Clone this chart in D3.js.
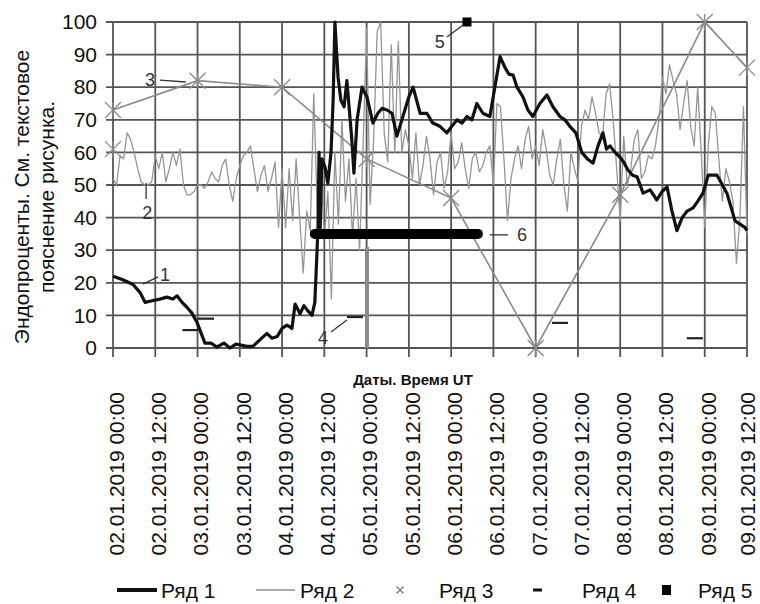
<!DOCTYPE html>
<html>
<head>
<meta charset="utf-8">
<script src="https://cdn.jsdelivr.net/npm/d3@7"></script>
<style>
  body { margin: 0; background: #fff; }
  svg text { font-family: "Liberation Sans", Arial, sans-serif; }
</style>
</head>
<body>
<div id="chart"></div>
<script>
// --- данные (часы от 02.01.2019 00:00 UT) ---
const tickHours = [0, 12, 24, 36, 48, 60, 72, 84, 96, 108, 120, 132, 144, 156, 168, 180];
const tickLabels = ["02.01.2019 00:00", "02.01.2019 12:00", "03.01.2019 00:00", "03.01.2019 12:00",
  "04.01.2019 00:00", "04.01.2019 12:00", "05.01.2019 00:00", "05.01.2019 12:00",
  "06.01.2019 00:00", "06.01.2019 12:00", "07.01.2019 00:00", "07.01.2019 12:00",
  "08.01.2019 00:00", "08.01.2019 12:00", "09.01.2019 00:00", "09.01.2019 12:00"];
const yTicks = [0, 10, 20, 30, 40, 50, 60, 70, 80, 90, 100];

const ryad1Hours = [0,2.6,5.7,7.7,9.1,11.1,13.3,15.3,17,18.2,19.6,21,22.4,23.8,24.7,26.1,27.8,29.5,31.5,33.2,
  34.9,36,38,39.7,41.7,43.7,45.1,46.6,48,49.4,50.8,51.7,53.1,54.2,55.1,56.5,57.3,57.9,58.2,58.5,
  58.8,59.3,60.2,61,61.9,62.5,63,63.9,64.7,65.6,66.4,67.8,68.4,69.3,70.7,72.1,73.8,75.2,76.4,77.8,
  79.2,80.6,82.3,84,85.2,87.2,89.1,90.8,92.8,94.8,96.2,97.7,99.1,100.5,101.9,103.3,105,107,109.9,111.3,
  112.4,113.6,114.7,116.4,117.8,119.2,121.2,123.2,124.9,126.9,128.3,129.7,131.4,133.1,134.7,136.3,137.7,139.1,140.1,141.1,
  142.5,143.9,145,146.2,147.5,148.8,150.5,152.5,154.4,155.9,157.3,158.7,160.1,161.6,163,164.7,166,167.5,169,171.5,
  174.3,176.6,179.4,180];
const ryad1Values = [22,21,19.5,17,14,14.5,15,15.6,15,16,14,12.5,10.7,8,5.5,1.5,1.5,0.3,1.5,0,
  1.2,1,0.5,0.5,2.5,4.5,3,3.5,6,7,6,13.5,10.5,13,11.7,10,14,29,37,60,
  36,58,55.5,50.6,60,76,100,83,76,74,82,64,53.6,70,80,77,69,72,73.5,73,
  72,65,71,77,80,72,72,69,68,66,68,70,69,71,70,75,72,71,89.4,86,
  84,83.7,80,77,73,71,75,77.6,74,71,70,68,66,60,58,56.7,62,66,61,62,
  60,58.6,57,54.6,53,52.5,47.5,48.5,45.4,48,49.4,42,36,40,42,43,45,47.5,53,53,
  47.5,39,37,36];

// Ряд 2: ежечасные значения, 0..180 ч
const ryad2Values = [
  52,50,59,58,66,64,60,55,51,50,
  50,51,59,55,60,51,55,60,56,61,
  50,47,47,48,50,50,49,51,54,52,
  51,56,58,50,45,52,56,59,60,62,
  55,48,53,56,48,52,57,37,55,37,
  55,39,58,40,23,42,36,78,42,55,
  34,48,15,60,38,70,45,58,34,52,
  30,62,98,44,64,97,100,66,57,93,
  60,94,60,67,62,52,66,50,56,65,
  58,47,57,60,49,54,66,55,57,63,
  55,49,58,60,54,56,60,62,50,75,
  74,58,39,52,58,62,55,64,68,58,
  62,56,67,61,53,50,58,64,50,42,
  60,55,51,68,73,70,77,72,66,65,
  78,81,70,55,39,65,50,55,64,67,
  52,54,59,58,62,70,83,78,87,82,
  78,67,75,82,68,62,80,60,37,62,
  74,72,58,45,55,51,45,26,40,74,
  35];

const ryad3Hours = [0, 24, 48, 72, 96, 120, 144, 168, 180];
const ryad3Values = [73, 82, 80, 58, 46, 0, 47, 100, 86];
const ryad3ExtraHours = [0];
const ryad3ExtraValues = [61];

const ryad4Hours = [22, 26.4, 68.7, 126.9, 165.2];
const ryad4Values = [5.5, 9, 9.5, 7.7, 3];

const ryad5Hours = [100.5];
const ryad5Values = [100];

const ryad6Hours = [57.3, 103.6];
const ryad6Values = [35, 35];

const barHours = [72.1];
const barLow = [0];
const barHigh = [31];

const legendNames = ["Ряд 1", "Ряд 2", "Ряд 3", "Ряд 4", "Ряд 5"];

(function chart() {

  let width = 760,
    height = 604,
    plot = ({ left: 113, right: 747, top: 22, bottom: 348 });

  const svg = d3.select("#chart")
    .append("svg")
    .attr("width", width)
    .attr("height", height)
    .attr("viewBox", [0, 0, width, height]);

  const start = Date.UTC(2019, 0, 2);
  const toDate = h => new Date(start + h * 3600e3);

  let x = d3.scaleUtc()
    .domain([toDate(0), toDate(180)])
    .range([plot.left, plot.right]);

  let y = d3.scaleLinear()
    .domain([0, 100])
    .range([plot.bottom, plot.top]);

  // сетка
  let gridG = svg.append("g");
  gridG.selectAll(".gh")
    .data(yTicks)
    .join("line")
    .attr("class", "gh")
    .attr("x1", plot.left - 7)
    .attr("x2", plot.right)
    .attr("y1", d => y(d))
    .attr("y2", d => y(d))
    .attr("stroke", "#555")
    .attr("stroke-width", 1.8);
  gridG.selectAll(".gv")
    .data(tickHours)
    .join("line")
    .attr("class", "gv")
    .attr("x1", d => x(toDate(d)))
    .attr("x2", d => x(toDate(d)))
    .attr("y1", plot.top)
    .attr("y2", plot.bottom + 9)
    .attr("stroke", "#555")
    .attr("stroke-width", 1.8);

  // подписи оси Y
  let yAxis = svg.append("g")
    .attr("transform", `translate(${plot.left - 7},0)`)
    .call(d3.axisLeft(y).tickValues(yTicks).tickSize(0).tickPadding(9));
  yAxis.select(".domain").remove();
  yAxis.selectAll("text")
    .attr("font-size", 21)
    .attr("fill", "#111");

  // подписи дат
  let xAxis = svg.append("g")
    .attr("transform", `translate(0,${plot.bottom + 9})`)
    .call(d3.axisBottom(x)
      .tickValues(tickHours.map(toDate))
      .tickSize(0)
      .tickFormat((d, i) => tickLabels[i]));
  xAxis.select(".domain").remove();
  xAxis.selectAll("text")
    .attr("font-size", 21)
    .attr("fill", "#111")
    .attr("text-anchor", "end")
    .attr("y", 0)
    .attr("dy", "0.35em")
    .attr("transform", (d, i) => `translate(${i === tickHours.length - 1 ? 0 : 3},35) rotate(-90)`);

  // подписи осей
  svg.append("text")
    .attr("x", 413)
    .attr("y", 385)
    .attr("text-anchor", "middle")
    .attr("font-size", 15)
    .attr("font-weight", "bold")
    .attr("fill", "#111")
    .text("Даты. Время UT");

  let yTitle = svg.append("g")
    .attr("transform", "translate(0,197) rotate(-90)")
    .attr("text-anchor", "middle")
    .attr("font-size", 21)
    .attr("fill", "#111");
  yTitle.append("text").attr("x", 0).attr("y", 29).text("Эндопроценты. См. текстовое");
  yTitle.append("text").attr("x", 0).attr("y", 54).text("пояснение рисунка.");

  function pts(hours, values) {
    return hours.map((h, i) => ({ t: toDate(h), v: values[i] }));
  }

  let line = d3.line()
    .x(d => x(d.t))
    .y(d => y(d.v));

  const ryad1 = pts(ryad1Hours, ryad1Values);
  const ryad2 = pts(ryad2Values.map((v, i) => i), ryad2Values);
  const ryad3 = pts(ryad3Hours, ryad3Values);

  // Ряд 2
  svg.append("path")
    .datum(ryad2)
    .attr("fill", "none")
    .attr("stroke", "#959595")
    .attr("stroke-width", 1.3)
    .attr("stroke-linejoin", "round")
    .attr("d", line);

  // серый столбик
  svg.append("g").selectAll("line")
    .data(barHours)
    .join("line")
    .attr("x1", h => x(toDate(h)))
    .attr("x2", h => x(toDate(h)))
    .attr("y1", (h, i) => y(barLow[i]))
    .attr("y2", (h, i) => y(barHigh[i]))
    .attr("stroke", "#8a8a8a")
    .attr("stroke-width", 4);

  // Ряд 3
  svg.append("path")
    .datum(ryad3)
    .attr("fill", "none")
    .attr("stroke", "#8a8a8a")
    .attr("stroke-width", 1.6)
    .attr("d", line);

  const star = r => `M${-r},${-r}L${r},${r}M${-r},${r}L${r},${-r}M0,${-r}L0,${r}`;

  svg.append("g").selectAll("path")
    .data(ryad3.concat(pts(ryad3ExtraHours, ryad3ExtraValues)))
    .join("path")
    .attr("transform", d => `translate(${x(d.t)},${y(d.v)})`)
    .attr("d", star(8))
    .attr("fill", "none")
    .attr("stroke", "#8a8a8a")
    .attr("stroke-width", 1.3);

  // Ряд 1
  svg.append("path")
    .datum(ryad1)
    .attr("fill", "none")
    .attr("stroke", "#111")
    .attr("stroke-width", 3.2)
    .attr("stroke-linejoin", "round")
    .attr("d", line);

  // Ряд 6 (толстая полоса)
  svg.append("path")
    .datum(pts(ryad6Hours, ryad6Values))
    .attr("fill", "none")
    .attr("stroke", "#000")
    .attr("stroke-width", 10)
    .attr("stroke-linecap", "round")
    .attr("d", line);

  // Ряд 4
  svg.append("g").selectAll("line")
    .data(pts(ryad4Hours, ryad4Values))
    .join("line")
    .attr("x1", d => x(d.t) - 8)
    .attr("x2", d => x(d.t) + 8)
    .attr("y1", d => y(d.v))
    .attr("y2", d => y(d.v))
    .attr("stroke", "#222")
    .attr("stroke-width", 2.2);

  // Ряд 5
  svg.append("g").selectAll("rect")
    .data(pts(ryad5Hours, ryad5Values))
    .join("rect")
    .attr("x", d => x(d.t) - 4.5)
    .attr("y", d => y(d.v) - 4.5)
    .attr("width", 9)
    .attr("height", 9)
    .attr("fill", "#000");

  // номера рядов с выносками
  const callouts = [
    { text: "1", at: [14.8, 22.4], from: [8.5, 19.6], to: [12.8, 21.8] },
    { text: "2", at: [9.7, 41.4], from: [9.4, 45.7], to: [9.4, 50.6] },
    { text: "3", at: [10.5, 82.2], from: [13.3, 82.2], to: [20.7, 81.6] },
    { text: "4", at: [59.6, 3.1], from: [61.9, 4.9], to: [66.4, 8.6] },
    { text: "5", at: [92.8, 93.9], from: [94.8, 95.4], to: [99.4, 99.1] },
    { text: "6", at: [116.1, 34.7], from: [107, 34.7], to: [112.1, 34.7] }
  ];

  let cg = svg.append("g");
  for (let c of callouts) {
    cg.append("line")
      .attr("x1", x(toDate(c.from[0]))).attr("y1", y(c.from[1]))
      .attr("x2", x(toDate(c.to[0]))).attr("y2", y(c.to[1]))
      .attr("stroke", "#333")
      .attr("stroke-width", 1.3);
    cg.append("text")
      .attr("x", x(toDate(c.at[0])))
      .attr("y", y(c.at[1]))
      .attr("text-anchor", "middle")
      .attr("dominant-baseline", "central")
      .attr("font-size", 18)
      .attr("fill", "#333")
      .text(c.text);
  }

  // легенда
  let lg = svg.append("g").attr("font-size", 21).attr("fill", "#111");
  let ly = 590;
  let textX = [161, 300, 439, 582, 698];

  lg.append("line").attr("x1", 117).attr("x2", 157).attr("y1", ly).attr("y2", ly)
    .attr("stroke", "#111").attr("stroke-width", 4);
  lg.append("line").attr("x1", 256).attr("x2", 295).attr("y1", ly).attr("y2", ly)
    .attr("stroke", "#8f8f8f").attr("stroke-width", 1.5);
  lg.append("path").attr("transform", `translate(400,${ly})`)
    .attr("d", `M-3.5,-3.5L3.5,3.5M-3.5,3.5L3.5,-3.5`)
    .attr("stroke", "#777").attr("stroke-width", 1.3);
  lg.append("line").attr("x1", 533).attr("x2", 542).attr("y1", ly).attr("y2", ly)
    .attr("stroke", "#111").attr("stroke-width", 3);
  lg.append("rect").attr("x", 662).attr("y", ly - 5).attr("width", 9).attr("height", 10)
    .attr("fill", "#000");

  lg.selectAll("text")
    .data(legendNames)
    .join("text")
    .attr("x", (d, i) => textX[i])
    .attr("y", ly)
    .attr("dy", "0.36em")
    .text(d => d);

})();
</script>
</body>
</html>
